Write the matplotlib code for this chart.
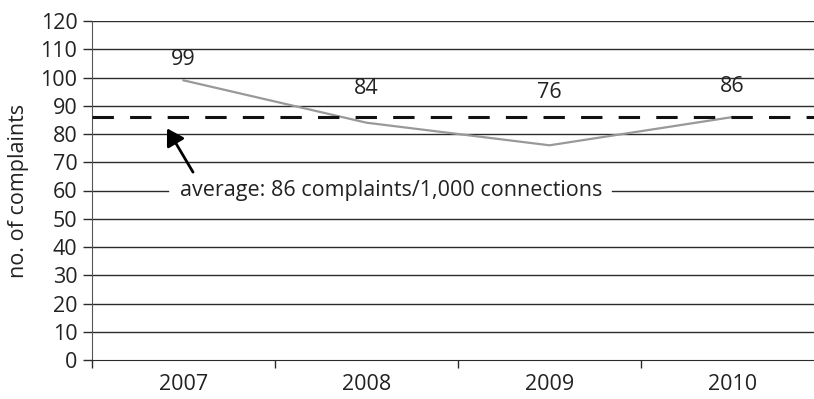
import matplotlib.pyplot as plt
import numpy as np

years = ['2007', '2008', '2009', '2010']
complaints = [99, 84, 76, 86]
average = 86
avg_text = 'average: 86 complaints/1,000 connections'

# where the value labels sit (bottom of text, in data units)
label_y = [102.5, 92.5, 91, 93]

plt.rcParams['font.family'] = ['Open Sans', 'DejaVu Sans']
fs = 15.5
txt = '#222222'
grid = '#2b2b2b'

fig = plt.figure(figsize=(8.14, 3.99), dpi=100)
ax = fig.add_axes([92/814, 39/399, 732/814, 339/399])

x = np.arange(len(years))
ax.set_xlim(-0.5, len(years) - 0.5)
ax.set_ylim(0, 120)

# horizontal grid at every 10
for v in range(10, 121, 10):
    if v == 60:
        continue
    ax.axhline(v, color=grid, lw=1.0, zorder=1)
# the 60 line is broken by the annotation text
ax.plot([-0.5, -0.085], [60, 60], color=grid, lw=1.0, zorder=1)
ax.plot([2.34, 3.5], [60, 60], color=grid, lw=1.0, zorder=1)

ax.plot(x, complaints, color='#999999', lw=1.6, zorder=3)
for xi, v, ly in zip(x, complaints, label_y):
    ax.text(xi, ly, str(v), ha='center', va='bottom', fontsize=fs, color=txt)

ax.axhline(average, color='#111111', lw=2.2, dashes=(7, 5.3), zorder=4)

ax.text(-0.02, 60, avg_text, ha='left', va='center', fontsize=fs, color=txt)
ax.annotate('', xy=(-0.09, 82), xytext=(0.052, 66.5),
            arrowprops=dict(arrowstyle='-|>,head_length=1.0,head_width=0.6',
                            color='black', lw=2.0, shrinkA=0, shrinkB=0))

ax.set_yticks(range(0, 121, 10))
ax.set_xticks(x)
ax.set_xticklabels(years)
ax.set_xticks(np.arange(-0.5, len(years), 1), minor=True)
ax.tick_params(axis='x', which='major', length=0, pad=10, labelsize=fs, labelcolor=txt)
ax.tick_params(axis='x', which='minor', length=6, width=1.0, color=grid)
ax.tick_params(axis='y', length=6.5, width=1.0, color=grid, pad=4, labelsize=fs, labelcolor=txt)
ax.set_ylabel('no. of complaints', fontsize=fs, color=txt, labelpad=8)

for s in ['top', 'right']:
    ax.spines[s].set_visible(False)
ax.spines['left'].set_color('#555555')
ax.spines['bottom'].set_color(grid)

fig.savefig('out.png', dpi=100)
